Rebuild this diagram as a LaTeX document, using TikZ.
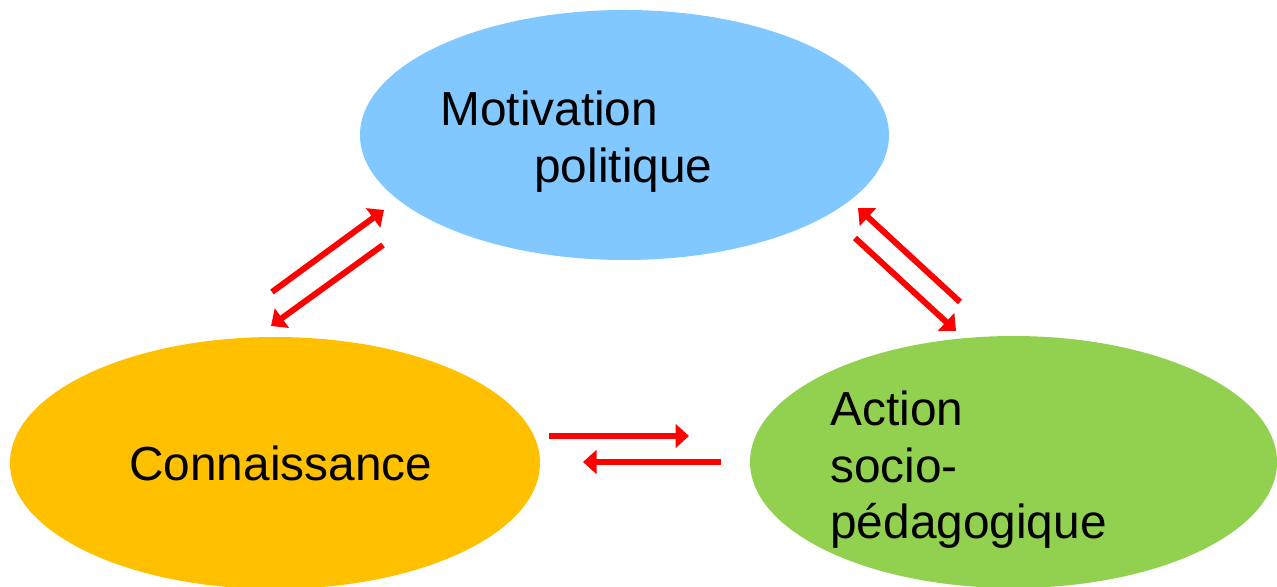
\documentclass[tikz,border=0pt]{standalone}
\usepackage{fontspec}
\setmainfont{Liberation Sans}
\usetikzlibrary{arrows.meta}
\definecolor{bluefill}{HTML}{80C8FF}
\definecolor{orangefill}{HTML}{FFC000}
\definecolor{greenfill}{HTML}{92D050}
\definecolor{arrowred}{HTML}{FF0000}
\tikzset{
  redarrow/.style={draw=arrowred, line width=0.12cm, -{Triangle[length=0.27cm,width=0.47cm]}},
  lbl/.style={anchor=base west, inner sep=0pt, font=\fontsize{27.2}{32.5}\selectfont},
}
\begin{document}
\begin{tikzpicture}[x=0.02cm,y=-0.02cm]
\useasboundingbox (0,0) rectangle (1277,587);
\begin{scope}
\clip (0,0) rectangle (1277,587);
\fill[bluefill] (624.5,135) ellipse [x radius=264.5, y radius=125];
\fill[orangefill] (275,463) ellipse [x radius=265, y radius=126];
\fill[greenfill] (1013.5,462) ellipse [x radius=263.5, y radius=126];
\end{scope}
\coordinate (mot) at (624.5,135);
\coordinate (con) at (275,463);
\coordinate (act) at (1013.5,462);
% text
\node[lbl] (t1) at (440,126) {Motivation};
\node[lbl] (t2) at (534,183) {politique};
\node[lbl] (t3) at (129,480) {Connaissance};
\node[lbl] (t4) at (830,425) {Action};
\node[lbl] (t5) at (830,482) {socio-};
\node[lbl] (t6) at (830,538) {pédagogique};
% arrow endpoints
\coordinate (a1s) at (272,292); \coordinate (a1e) at (384,210);
\coordinate (a2s) at (383,245); \coordinate (a2e) at (271,326);
\coordinate (a3s) at (960,302); \coordinate (a3e) at (858,208);
\coordinate (a4s) at (855,238); \coordinate (a4e) at (956,331);
\coordinate (a5s) at (549,436); \coordinate (a5e) at (689,436);
\coordinate (a6s) at (721,462); \coordinate (a6e) at (583,462);
\draw[redarrow] (a1s) -- (a1e);
\draw[redarrow] (a2s) -- (a2e);
\draw[redarrow] (a3s) -- (a3e);
\draw[redarrow] (a4s) -- (a4e);
\draw[redarrow] (a5s) -- (a5e);
\draw[redarrow] (a6s) -- (a6e);
\end{tikzpicture}
\end{document}
